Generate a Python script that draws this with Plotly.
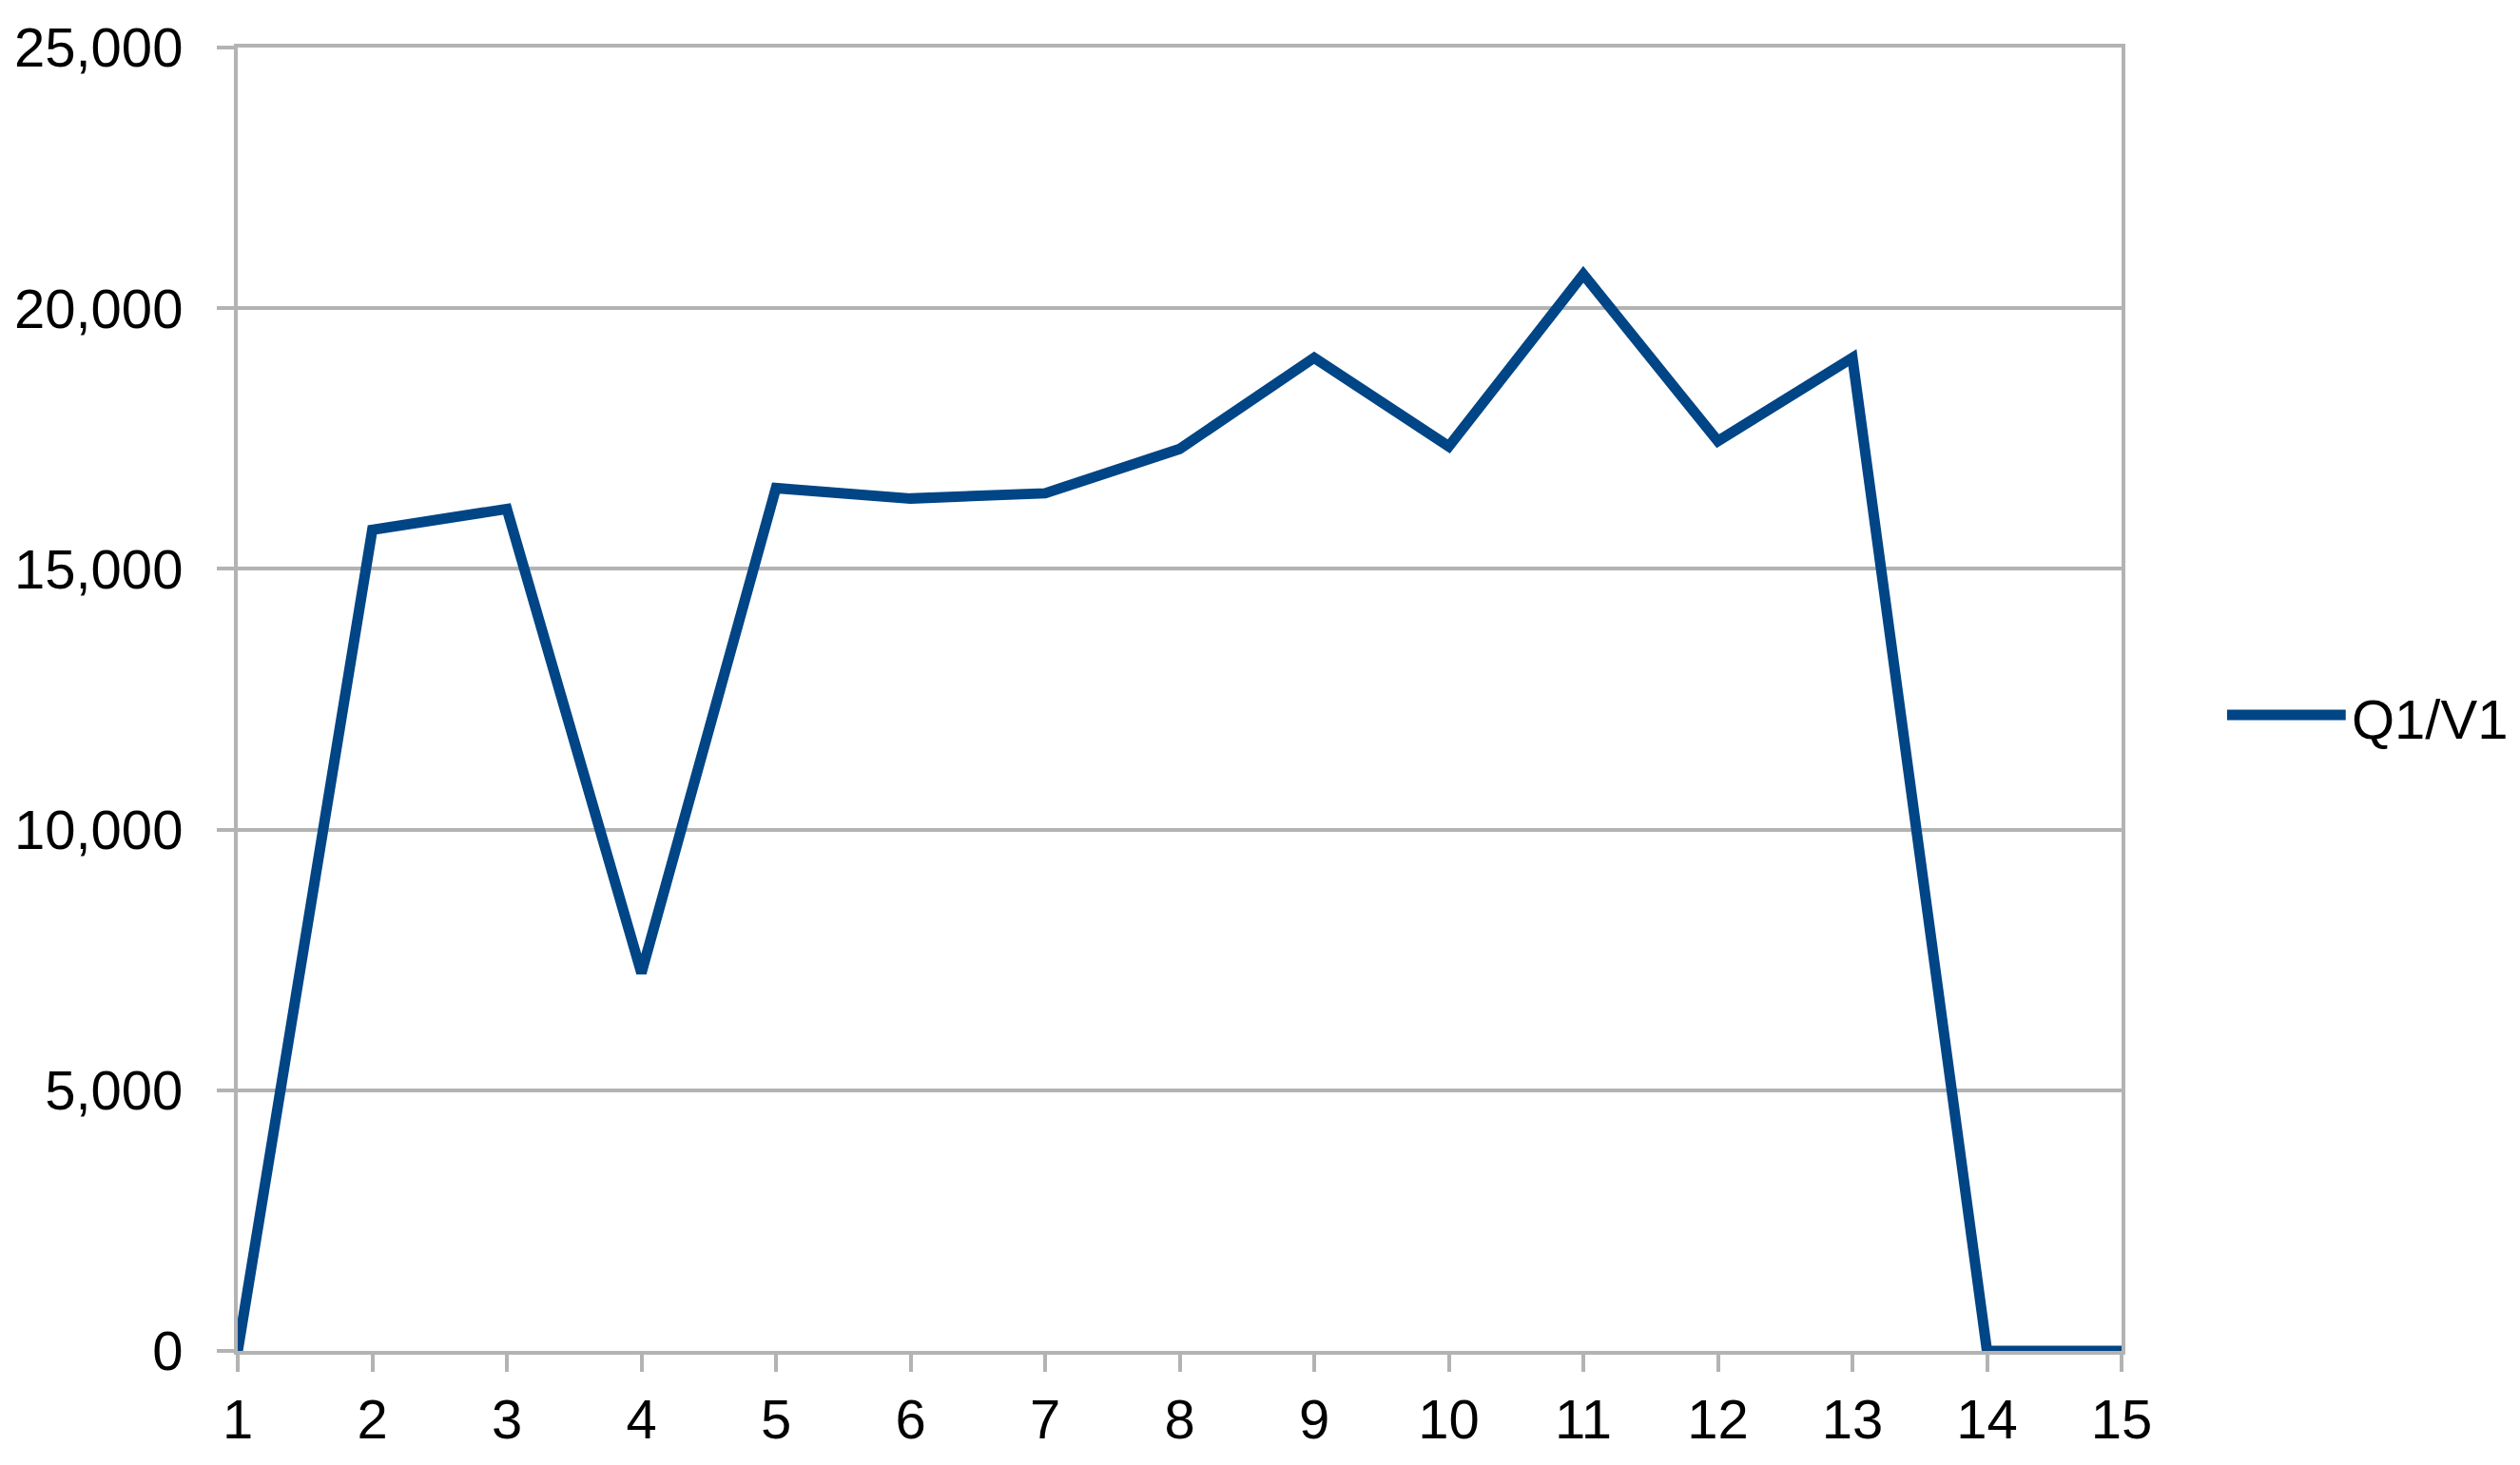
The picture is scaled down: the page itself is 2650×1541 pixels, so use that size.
import plotly.graph_objects as go

# data
periods = list(range(1, 16))
q1_v1 = [0, 15750, 16150, 7250, 16550, 16350, 16450, 17300,
         19050, 17350, 20650, 17450, 19050, 0, 0]
series_name = 'Q1/V1'
y_ticks = [0, 5000, 10000, 15000, 20000, 25000]

line_color = '#004586'
grid_color = '#b3b3b3'
font_family = 'Liberation Sans, Arial, sans-serif'


def make_chart():
    '''line chart in the old office-suite look'''
    fig = go.Figure()
    fig.add_trace(go.Scatter(x=periods, y=q1_v1, mode='lines', name=series_name,
                             line=dict(color=line_color, width=11),
                             showlegend=False))

    fig.update_xaxes(range=[1, 15], tickvals=periods, showgrid=False,
                     showline=True, linecolor=grid_color, linewidth=4,
                     mirror=True, layer='below traces', automargin=False,
                     ticks='outside', ticklen=18, tickwidth=4, tickcolor=grid_color,
                     zeroline=False)
    fig.update_yaxes(range=[0, 25000], tickvals=y_ticks, tickformat=',d',
                     showgrid=True, gridcolor=grid_color, gridwidth=4,
                     showline=True, linecolor=grid_color, linewidth=4,
                     mirror=True, layer='below traces', automargin=False,
                     ticks='outside', ticklen=18, tickwidth=4, tickcolor=grid_color,
                     ticklabelstandoff=24, zeroline=False)

    # legend drawn by hand so the sample line is as long as in the original
    fig.add_shape(type='line', xref='paper', yref='paper',
                  x0=1.056, x1=1.119, y0=0.488, y1=0.488,
                  line=dict(color=line_color, width=11))
    fig.add_annotation(xref='paper', yref='paper', x=1.121, y=0.485,
                       text=series_name, showarrow=False,
                       xanchor='left', yanchor='middle',
                       font=dict(size=58, color='#000000', family=font_family))

    # page body adds 8px, margins are set so the plot box lands where the original is
    fig.update_layout(width=2650, height=1541,
                      margin=dict(l=242, r=427, t=42, b=128),
                      plot_bgcolor='white', paper_bgcolor='white',
                      font=dict(family=font_family, size=58, color='#000000'))
    return fig


fig = make_chart()
fig.write_html('out.html')
